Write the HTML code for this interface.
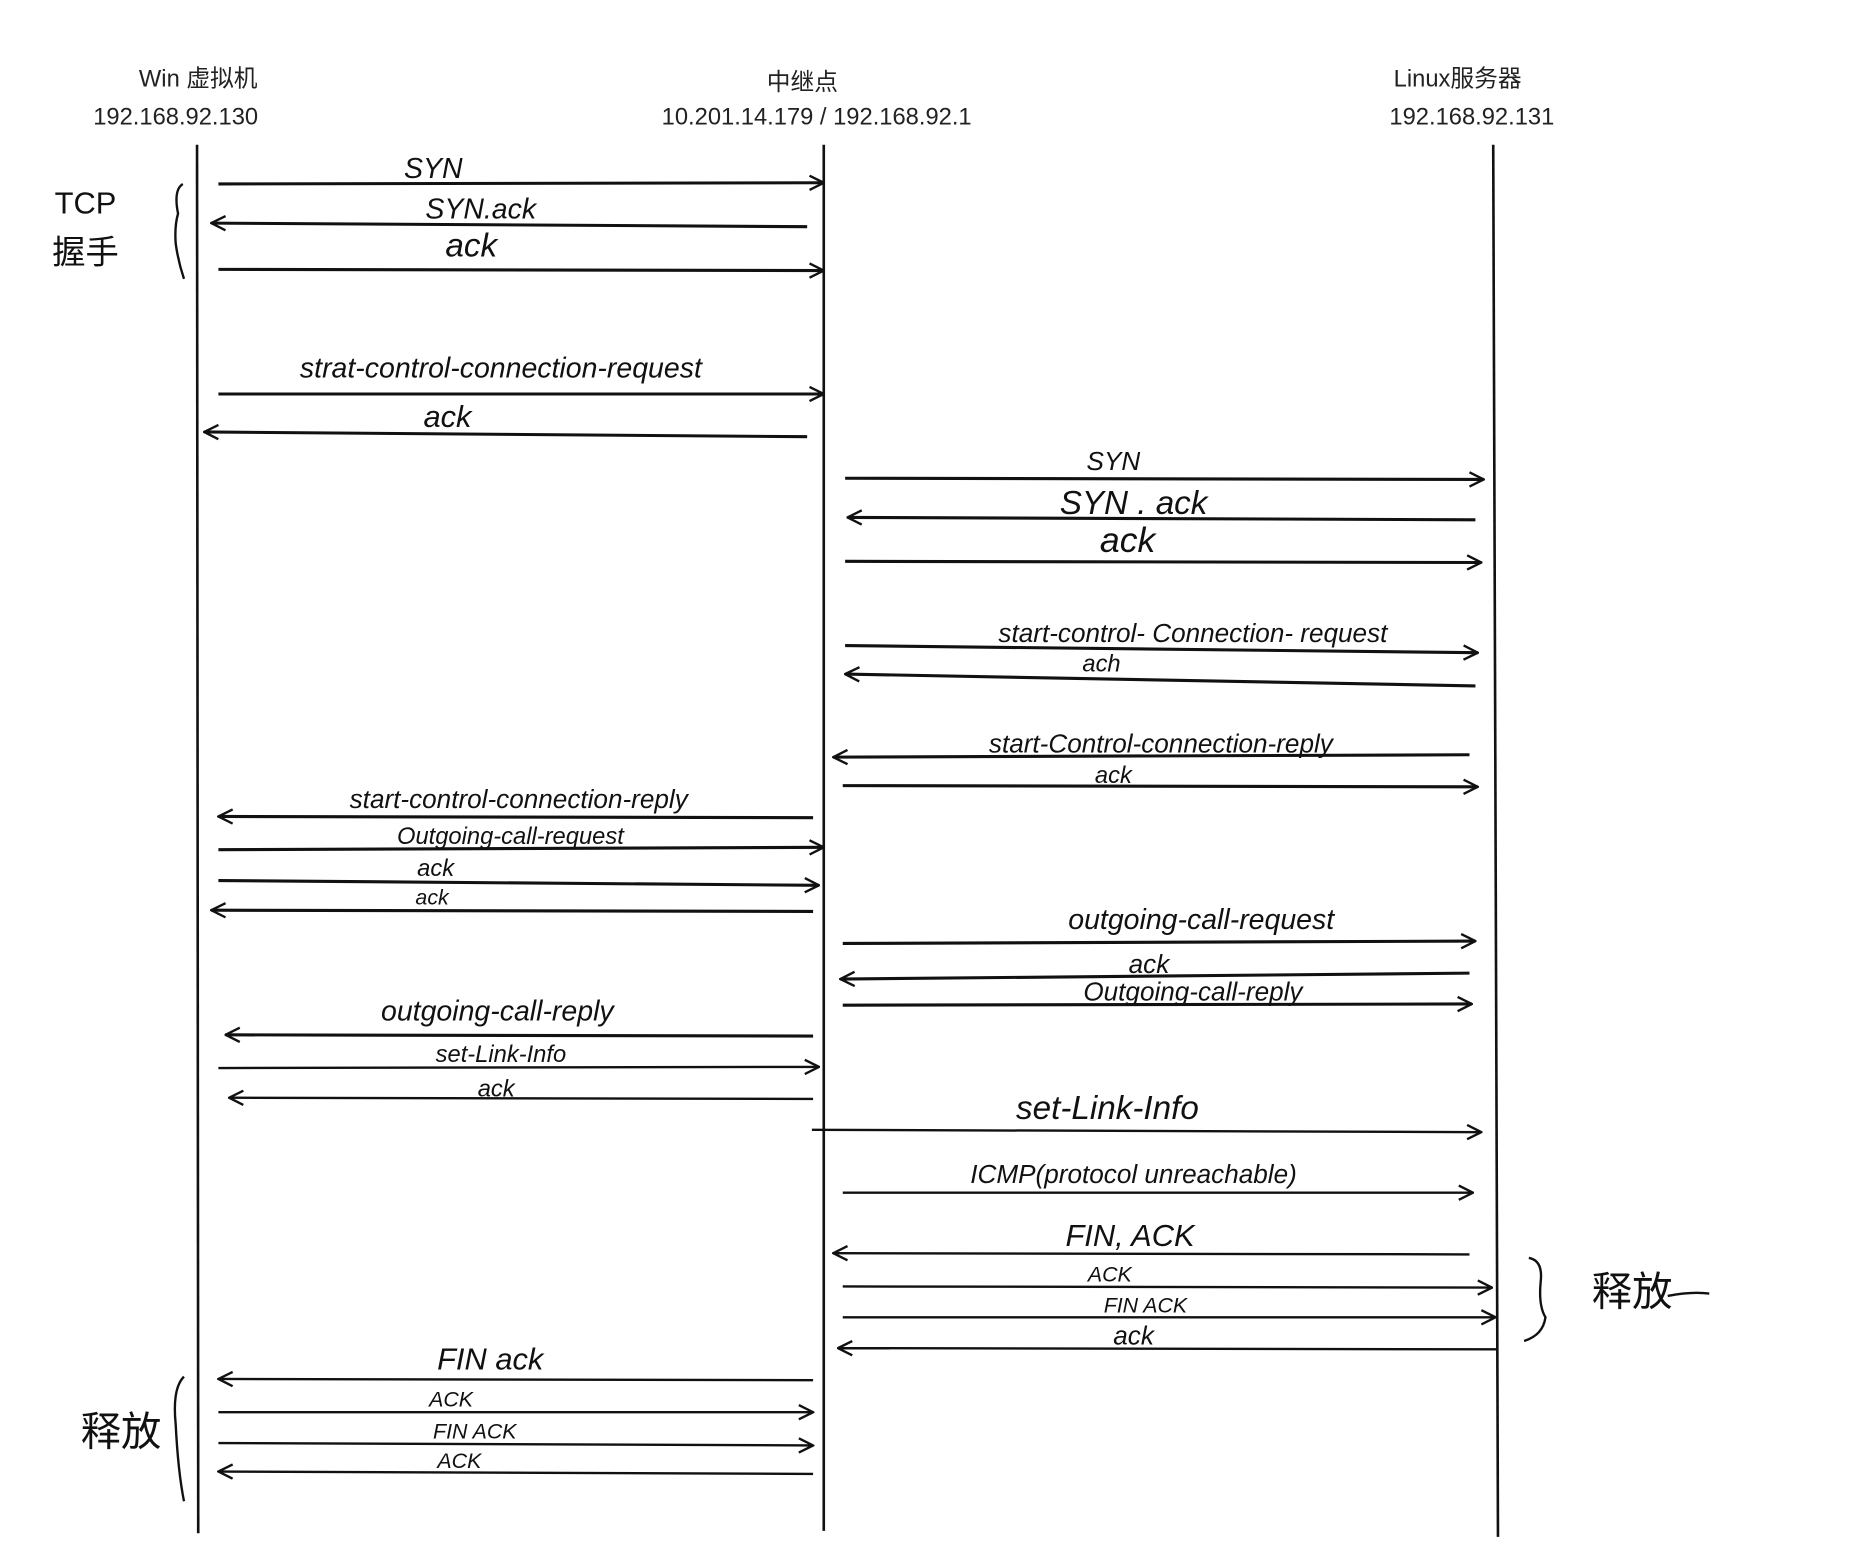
<!DOCTYPE html>
<html><head><meta charset="utf-8"><style>
html,body{margin:0;padding:0;background:#fff;width:1860px;height:1557px;overflow:hidden}
svg{display:block}
.h{font-family:"Liberation Sans","Noto Sans CJK SC",sans-serif;font-size:20px;fill:#222}
.l{font-family:"Liberation Sans Narrow","Liberation Sans","Noto Sans CJK SC",sans-serif;font-style:italic;fill:#111;text-anchor:middle}
line.a{stroke:#111;stroke-width:2.6}
</style></head><body>
<svg width="1860" height="1557" viewBox="0 0 1567 1312" preserveAspectRatio="none" xmlns="http://www.w3.org/2000/svg">
<defs>
<marker id="m" viewBox="0 0 14 14" refX="13" refY="7" markerWidth="14" markerHeight="14" markerUnits="userSpaceOnUse" orient="auto-start-reverse">
<path d="M1,1 L13,7 L1,13" fill="none" stroke="#111" stroke-width="2"/></marker>
</defs>
<rect width="1567" height="1312" fill="#fff"/>
<text class="h" x="167" y="73" text-anchor="middle">Win 虚拟机</text>
<text class="h" x="148" y="105" text-anchor="middle">192.168.92.130</text>
<text class="h" x="676" y="76" text-anchor="middle">中继点</text>
<text class="h" x="688" y="105" text-anchor="middle">10.201.14.179  / 192.168.92.1</text>
<text class="h" x="1228" y="73" text-anchor="middle">Linux服务器</text>
<text class="h" x="1240" y="105" text-anchor="middle">192.168.92.131</text>
<g stroke="#111" stroke-width="2.2">
<line x1="166" y1="122" x2="167" y2="1292"/>
<line x1="694" y1="122" x2="694" y2="1290"/>
<line x1="1258" y1="122" x2="1262" y2="1295"/>
</g>
<g fill="none" stroke="#111" stroke-width="2">
<path d="M154,155 Q146,160 150,180 Q147,190 148,205 Q150,220 155,235"/>
<path d="M1288,1060 Q1300,1062 1298,1080 Q1296,1100 1302,1110 Q1300,1125 1284,1130"/>
<path d="M155,1160 Q145,1170 148,1200 Q150,1240 155,1265"/>
<path d="M1405,1092 Q1425,1088 1440,1090"/>
</g>
<g class="l">
<text x="72" y="180" font-size="26" style="font-style:normal">TCP</text>
<text x="72" y="222" font-size="28" style="font-style:normal;font-family:'Noto Sans CJK SC',sans-serif">握手</text>
<text x="1375" y="1100" font-size="34" style="font-style:normal;font-family:'Noto Sans CJK SC',sans-serif">释放</text>
<text x="102" y="1218" font-size="34" style="font-style:normal;font-family:'Noto Sans CJK SC',sans-serif">释放</text>
</g>
<g>
<line class="a" x1="184" y1="155" x2="694" y2="154" marker-end="url(#m)"/>
<line class="a" x1="680" y1="191" x2="178" y2="188" marker-end="url(#m)"/>
<line class="a" x1="184" y1="227" x2="694" y2="228" marker-end="url(#m)"/>
<line class="a" x1="184" y1="332" x2="694" y2="332" marker-end="url(#m)"/>
<line class="a" x1="680" y1="368" x2="172" y2="364" marker-end="url(#m)"/>
<line class="a" x1="712" y1="403" x2="1250" y2="404" marker-end="url(#m)"/>
<line class="a" x1="1243" y1="438" x2="714" y2="436" marker-end="url(#m)"/>
<line class="a" x1="712" y1="473" x2="1248" y2="474" marker-end="url(#m)"/>
<line class="a" x1="712" y1="544" x2="1245" y2="550" marker-end="url(#m)"/>
<line class="a" x1="1243" y1="578" x2="712" y2="568" marker-end="url(#m)"/>
<line class="a" x1="1238" y1="636" x2="702" y2="638" marker-end="url(#m)"/>
<line class="a" x1="710" y1="662" x2="1245" y2="663" marker-end="url(#m)"/>
<line class="a" x1="685" y1="689" x2="184" y2="688" marker-end="url(#m)"/>
<line class="a" x1="184" y1="716" x2="694" y2="714" marker-end="url(#m)"/>
<line class="a" x1="184" y1="742" x2="690" y2="746" marker-end="url(#m)"/>
<line class="a" x1="685" y1="768" x2="178" y2="767" marker-end="url(#m)"/>
<line class="a" x1="710" y1="795" x2="1243" y2="793" marker-end="url(#m)"/>
<line class="a" x1="1238" y1="820" x2="708" y2="825" marker-end="url(#m)"/>
<line class="a" x1="710" y1="847" x2="1240" y2="846" marker-end="url(#m)"/>
<line class="a" x1="685" y1="873" x2="190" y2="872" marker-end="url(#m)"/>
<line class="a" x1="184" y1="900" x2="690" y2="899" marker-end="url(#m)" style="stroke-width:2"/>
<line class="a" x1="685" y1="926" x2="193" y2="925" marker-end="url(#m)" style="stroke-width:2"/>
<line class="a" x1="684" y1="952" x2="1248" y2="954" marker-end="url(#m)" style="stroke-width:2"/>
<line class="a" x1="710" y1="1005" x2="1241" y2="1005" marker-end="url(#m)" style="stroke-width:2"/>
<line class="a" x1="1238" y1="1057" x2="702" y2="1056" marker-end="url(#m)" style="stroke-width:2"/>
<line class="a" x1="710" y1="1084" x2="1257" y2="1085" marker-end="url(#m)" style="stroke-width:2"/>
<line class="a" x1="710" y1="1110" x2="1260" y2="1110" marker-end="url(#m)" style="stroke-width:2"/>
<line class="a" x1="1262" y1="1137" x2="706" y2="1136" marker-end="url(#m)" style="stroke-width:2"/>
<line class="a" x1="685" y1="1163" x2="184" y2="1162" marker-end="url(#m)" style="stroke-width:2"/>
<line class="a" x1="184" y1="1190" x2="685" y2="1190" marker-end="url(#m)" style="stroke-width:2"/>
<line class="a" x1="184" y1="1216" x2="685" y2="1218" marker-end="url(#m)" style="stroke-width:2"/>
<line class="a" x1="685" y1="1242" x2="184" y2="1240" marker-end="url(#m)" style="stroke-width:2"/>
</g>
<g class="l">
<text x="365" y="150" font-size="24">SYN</text>
<text x="405" y="184" font-size="24">SYN.ack</text>
<text x="397" y="216" font-size="28">ack</text>
<text x="422" y="318" font-size="24">strat-control-connection-request</text>
<text x="377" y="360" font-size="26">ack</text>
<text x="938" y="396" font-size="22">SYN</text>
<text x="955" y="433" font-size="28">SYN . ack</text>
<text x="950" y="465" font-size="30">ack</text>
<text x="1005" y="541" font-size="22">start-control- Connection- request</text>
<text x="928" y="566" font-size="20">ach</text>
<text x="978" y="634" font-size="22">start-Control-connection-reply</text>
<text x="938" y="660" font-size="20">ack</text>
<text x="437" y="681" font-size="22">start-control-connection-reply</text>
<text x="430" y="711" font-size="20">Outgoing-call-request</text>
<text x="367" y="738" font-size="20">ack</text>
<text x="364" y="762" font-size="18">ack</text>
<text x="1012" y="783" font-size="24">outgoing-call-request</text>
<text x="968" y="820" font-size="22">ack</text>
<text x="1005" y="843" font-size="22">Outgoing-call-reply</text>
<text x="419" y="860" font-size="24">outgoing-call-reply</text>
<text x="422" y="895" font-size="20">set-Link-Info</text>
<text x="418" y="924" font-size="20">ack</text>
<text x="933" y="943" font-size="28">set-Link-Info</text>
<text x="955" y="997" font-size="22">ICMP(protocol unreachable)</text>
<text x="952" y="1050" font-size="26">FIN, ACK</text>
<text x="935" y="1080" font-size="18">ACK</text>
<text x="965" y="1106" font-size="18">FIN  ACK</text>
<text x="955" y="1133" font-size="22">ack</text>
<text x="413" y="1154" font-size="26">FIN  ack</text>
<text x="380" y="1185" font-size="18">ACK</text>
<text x="400" y="1212" font-size="18">FIN ACK</text>
<text x="387" y="1237" font-size="18">ACK</text>
</g>
</svg>
</body></html>
